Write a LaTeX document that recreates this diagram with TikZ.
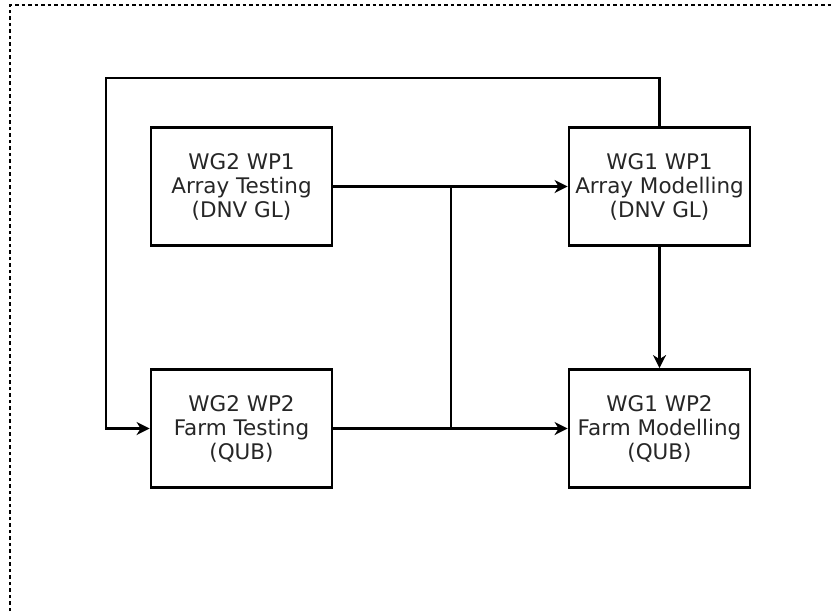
\documentclass[tikz,border=0pt]{standalone}
\usepackage{fontspec}
\setmainfont{DejaVu Sans}
\usepackage{tikz}
\usetikzlibrary{positioning, arrows.meta}

\begin{document}
\begin{tikzpicture}[x=1pt,y=-1pt,
  wp_node/.style={draw,line width=2.8pt,minimum width=181pt,minimum height=118pt,inner sep=0pt,align=center,text=black!85,font=\fontsize{21.5}{24}\selectfont},
  link/.style={draw,line width=2.4pt,-{Stealth[length=13pt,width=13pt,inset=4pt]}}]

\useasboundingbox (0,0) rectangle (834,611);
% frame (only top and left edge are inside the picture)
\draw[line width=1.2pt,dash pattern=on 3.5pt off 3pt] (10,611) -- (10,5) -- (834,5);

\node[wp_node] (t1) at (241.5,186.5) {WG2 WP1\\Array Testing\\(DNV GL)};
\node[wp_node] (m1) at (659.5,186.5) {WG1 WP1\\Array Modelling\\(DNV GL)};
\node[wp_node] (t2) at (241.5,428.5) {WG2 WP2\\Farm Testing\\(QUB)};
\node[wp_node] (m2) at (659.5,428.5) {WG1 WP2\\Farm Modelling\\(QUB)};

\coordinate (ja) at (451,186.5);
\coordinate (jb) at (451,428.5);
\coordinate (la) at (659.5,78);
\coordinate (lb) at (106,78);
\coordinate (lc) at (106,428.5);

\path[link]
\foreach \i/\j in {t1/m1,t2/m2,m1/m2}{(\i) edge (\j) };
\draw[line width=2.4pt] (ja) -- (jb);
\draw[link] (m1.north) -- (la) -- (lb) -- (lc) -- (t2.west);

\end{tikzpicture}
\end{document}
